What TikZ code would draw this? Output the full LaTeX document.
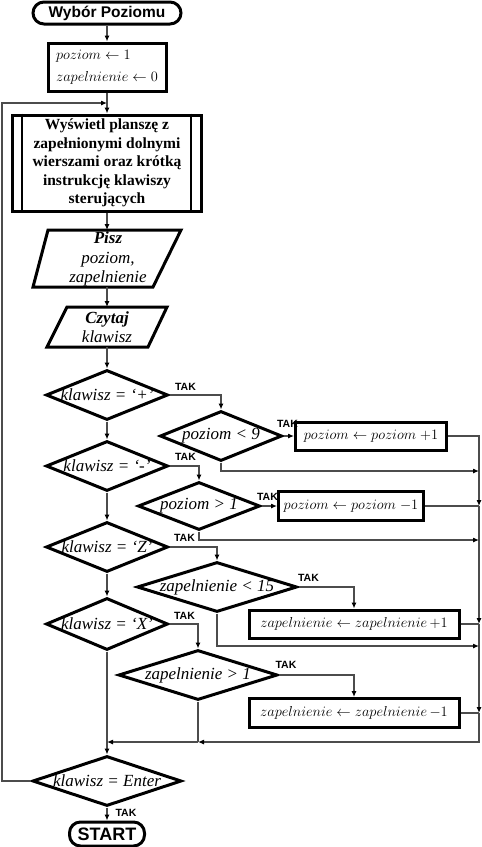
\documentclass[tikz,border=0pt]{standalone}
\usepackage{fontspec}
\setmainfont{Liberation Serif}
\newfontfamily\sansf{Liberation Sans}
\usetikzlibrary{shapes.geometric,arrows.meta,calc}
\begin{document}
\begin{tikzpicture}[x=1pt,y=-1pt,
  box/.style={draw=black,line width=3pt,rectangle,inner sep=0pt},
  term/.style={box,rounded corners=11pt,font=\sansf\bfseries\fontsize{15.5}{18}\selectfont},
  decn/.style={draw=black,line width=3pt,diamond,inner sep=-6pt,font=\itshape\fontsize{17}{19}\selectfont},
  conn/.style={draw=black!70,line width=1.1pt},
  arr/.style={conn,-{Latex[length=6pt,width=5pt,color=black]}},
  tak/.style={font=\sansf\bfseries\fontsize{10.5}{12}\selectfont,inner sep=0pt},
  mth/.style={font=\fontsize{15}{18}\selectfont},
  io/.style={draw=black,line width=3pt,line join=miter}
]
\useasboundingbox (0,0) rectangle (482,847);

\node[term,minimum width=148pt,minimum height=22pt] (wyb) at (107,13) {Wybór Poziomu};
\node[box,minimum width=118pt,minimum height=48pt,align=left,mth] (init) at (107,67) {$poziom \leftarrow 1$\\[4pt]$zapelnienie \leftarrow 0$};

\node[box,minimum width=189pt,minimum height=96pt,align=center,font=\bfseries\fontsize{15.5}{18.5}\selectfont] (proc) at (107,163) {Wyświetl planszę z\\zapełnionymi dolnymi\\wierszami oraz krótką\\instrukcję klawiszy\\sterujących};
\draw[line width=2.2pt] ([xshift=11pt]proc.north west) -- ([xshift=11pt]proc.south west);
\draw[line width=2.2pt] ([xshift=-12pt]proc.north east) -- ([xshift=-12pt]proc.south east);

\draw[io] (48,230) -- (181,230) -- (153,287) -- (33,287) -- cycle;
\node[align=center,font=\itshape\fontsize{17}{19.5}\selectfont] (pisz) at (108,259) {\textbf{Pisz}\\poziom,\\zapelnienie};
\coordinate (piszT) at (107,230);
\coordinate (piszB) at (107,287);

\draw[io] (67,307) -- (167,307) -- (148,347) -- (47,347) -- cycle;
\node[align=center,font=\itshape\fontsize{17}{19.5}\selectfont] (czyt) at (107,327) {\textbf{Czytaj}\\klawisz};
\coordinate (czytT) at (107,307);
\coordinate (czytB) at (107,347);

\node[decn,aspect=2.44,minimum width=122pt,minimum height=50pt] (d1) at (107,395) {klawisz = ‘+’};
\node[decn,aspect=2.44,minimum width=122pt,minimum height=50pt] (p9) at (221,436) {poziom < 9};
\node[box,minimum width=151pt,minimum height=28pt,mth] (inc) at (371,436) {$poziom \leftarrow poziom\;{+}1$};
\node[decn,aspect=2.44,minimum width=122pt,minimum height=50pt] (d2) at (107,466) {klawisz = ‘-’};
\node[decn,aspect=2.54,minimum width=122pt,minimum height=48pt] (p1) at (199,506) {poziom > 1};
\node[box,minimum width=145pt,minimum height=29pt,mth] (dec) at (351,506) {$poziom \leftarrow poziom\;{-}1$};
\node[decn,aspect=2.44,minimum width=122pt,minimum height=50pt] (dZ) at (107,547) {klawisz = ‘Z’};
\node[decn,aspect=3.2,minimum width=160pt,minimum height=50pt] (z15) at (217,587) {zapelnienie < 15};
\node[box,minimum width=210pt,minimum height=28pt,mth] (zinc) at (354,624) {$zapelnienie \leftarrow zapelnienie\,{+}1$};
\node[decn,aspect=2.35,minimum width=122pt,minimum height=52pt] (dX) at (107,624) {klawisz = ‘X’};
\node[decn,aspect=3.18,minimum width=159pt,minimum height=50pt] (z1) at (198,675) {zapelnienie > 1};
\node[box,minimum width=210pt,minimum height=29pt,mth] (zdec) at (354,713) {$zapelnienie \leftarrow zapelnienie\,{-}1$};
\node[decn,aspect=2.98,minimum width=149pt,minimum height=50pt] (dE) at (107,781) {klawisz = Enter};
\node[term,minimum width=75pt,minimum height=24pt,font=\sansf\bfseries\fontsize{18}{20}\selectfont] (stop) at (107,834) {START};

% main column
\draw[arr] (wyb) -- (init);
\draw[arr] (init) -- (proc);
\draw[arr] (proc) -- (piszT);
\draw[arr] (piszB) -- (czytT);
\draw[arr] (czytB) -- (d1);
\draw[arr] (d1) -- (d2);
\draw[arr] (d2) -- (dZ);
\draw[arr] (dZ) -- (dX);
\draw[arr] (dX) -- (dE);
\draw[arr] (dE) -- (stop);

% yes branches
\draw[arr] (d1.east) -| (p9.north);
\draw[arr] (p9.east) -- (inc.west);
\draw[arr] (d2.east) -| (p1.north);
\draw[arr] (p1.east) -- (dec.west);
\draw[arr] (dZ.east) -| (z15.north);
\draw[arr] (z15.east) -| (zinc.north);
\draw[arr] (dX.east) -| (z1.north);
\draw[arr] (z1.east) -| (zdec.north);

% bus
\coordinate (j1) at (479,506);
\coordinate (j2) at (479,624);
\coordinate (j3) at (479,713);
\coordinate (j4) at (479,742);
\coordinate (m1) at (198,742);
\coordinate (m2) at (107,742);
\coordinate (n1) at (479,471);
\coordinate (n2) at (479,540);
\coordinate (n3) at (479,646);
\draw[arr] (inc.east) -| (j1);
\draw[conn] (dec.east) -- (j1);
\draw[arr] (j1) -- (j2);
\draw[conn] (zinc.east) -- (j2);
\draw[arr] (j2) -- (j3);
\draw[conn] (zdec.east) -- (j3);
\draw[arr] (j3) -- (j4) -- (m1);
\draw[conn] (z1.south) -- (m1);
\draw[arr] (m1) -- (m2);
\draw[arr] (p9.south) |- (n1);
\draw[arr] (p1.south) |- (n2);
\draw[arr] (z15.south) |- (n3);

% loop back
\coordinate (loopB) at (2,781);
\coordinate (loopT) at (2,103);
\coordinate (ent) at (107,103);
\draw[arr] (dE.west) -- (loopB) -- (loopT) -- (ent);

% labels
\node[tak] at ($(d1.east)+(16,-8)$) {TAK};
\node[tak] at ($(p9.east)+(4,-12)$) {TAK};
\node[tak] at ($(d2.east)+(16,-9)$) {TAK};
\node[tak] at ($(p1.east)+(6,-9)$) {TAK};
\node[tak] at ($(dZ.east)+(15,-9)$) {TAK};
\node[tak] at ($(z15.east)+(10,-9)$) {TAK};
\node[tak] at ($(dX.east)+(15,-8)$) {TAK};
\node[tak] at ($(z1.east)+(7,-10)$) {TAK};
\node[tak] at ($(dE.south)+(19,5)$) {TAK};
\end{tikzpicture}
\end{document}
